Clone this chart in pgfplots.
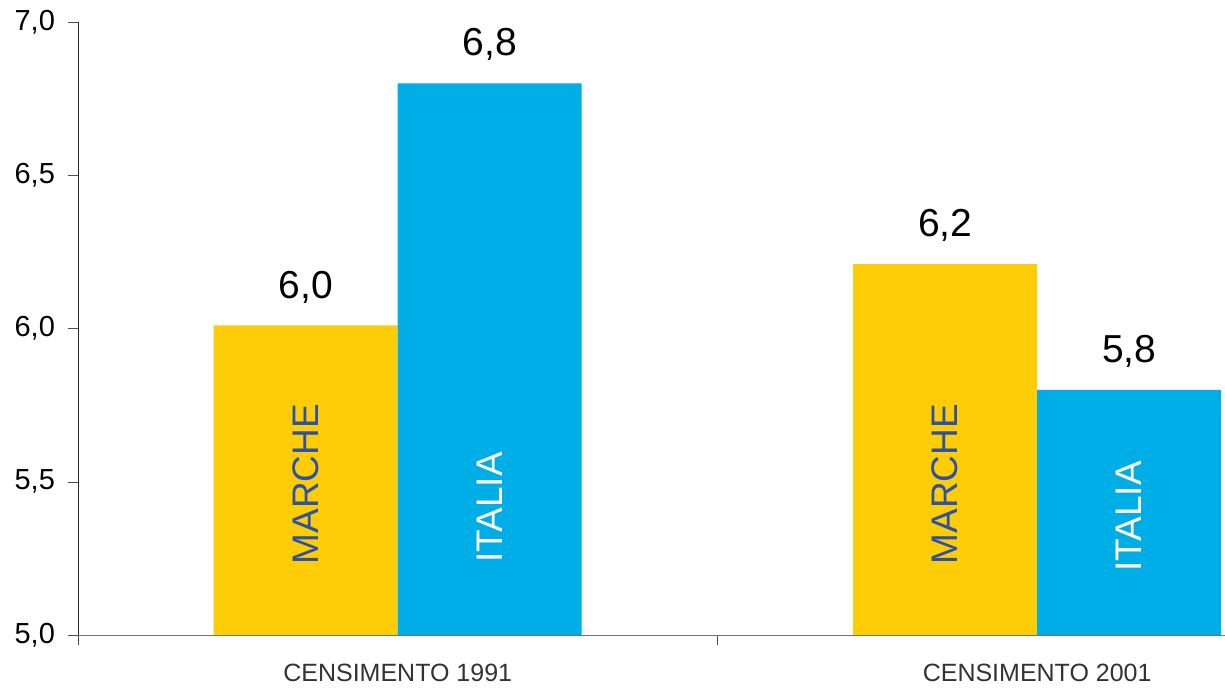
\documentclass[border=0pt]{standalone}
\usepackage{pgfplots}
\pgfplotsset{compat=1.18}
\usepackage{fontspec}
\setmainfont{Liberation Sans}
\definecolor{yel}{HTML}{FFCD07}
\definecolor{blu}{HTML}{00AEE7}
\definecolor{mtxt}{HTML}{2D52A3}
\definecolor{cattxt}{HTML}{333333}
\begin{document}
\begin{tikzpicture}
\begin{axis}[
  scale only axis, width=573.5pt, height=306.5pt,
  xmin=-0.5, xmax=1.29375, ymin=5, ymax=7,
  axis x line*=bottom, axis y line*=left,
  x axis line style={draw=black!55},
  y axis line style={draw=black!85},
  tick align=outside, major tick length=5pt,
  /pgf/number format/assume math mode=true,
  ytick={5,5.5,6,6.5,7},
  yticklabel style={font=\fontsize{14.5}{14.5}\selectfont, xshift=-3pt, /pgf/number format/.cd, use comma, fixed, fixed zerofill, precision=1},
  ytick style={draw=black!70},
  xtick={-0.5,0.5}, xticklabels={},
  xtick style={draw=black!70},
  extra x ticks={0,1},
  extra x tick labels={CENSIMENTO 1991, CENSIMENTO 2001},
  extra x tick style={major tick length=0pt, tick style={draw=none}, xticklabel style={font=\fontsize{12.5}{12.5}\selectfont, text=cattxt, yshift=-11pt}},
  ybar=0pt, bar width=92pt,
  nodes near coords={\pgfmathprintnumber[use comma,fixed,fixed zerofill,precision=1,assume math mode=true]{\pgfplotspointmeta}},
  nodes near coords style={font=\fontsize{19.5}{19.5}\selectfont, anchor=south, inner sep=0pt, yshift=11pt, text=black},
]
\addplot[fill=yel, draw=none] coordinates {(0,6.01) (1,6.21)};
\addplot[fill=blu, draw=none] coordinates {(0,6.8) (1,5.8)};
\node[rotate=90, anchor=west, inner sep=0pt, text=mtxt, font=\fontsize{18.5}{18.5}\selectfont] at (axis cs:-0.14375,5.229) {MARCHE};
\node[rotate=90, anchor=west, inner sep=0pt, text=white, font=\fontsize{18.5}{18.5}\selectfont] at (axis cs:0.14375,5.235) {ITALIA};
\node[rotate=90, anchor=west, inner sep=0pt, text=mtxt, font=\fontsize{18.5}{18.5}\selectfont] at (axis cs:0.85625,5.229) {MARCHE};
\node[rotate=90, anchor=west, inner sep=0pt, text=white, font=\fontsize{18.5}{18.5}\selectfont] at (axis cs:1.14375,5.206) {ITALIA};
\end{axis}
\pgfresetboundingbox
\path[use as bounding box] (-39pt,-26.5pt) rectangle (573.5pt,317.5pt);
\end{tikzpicture}
\end{document}
